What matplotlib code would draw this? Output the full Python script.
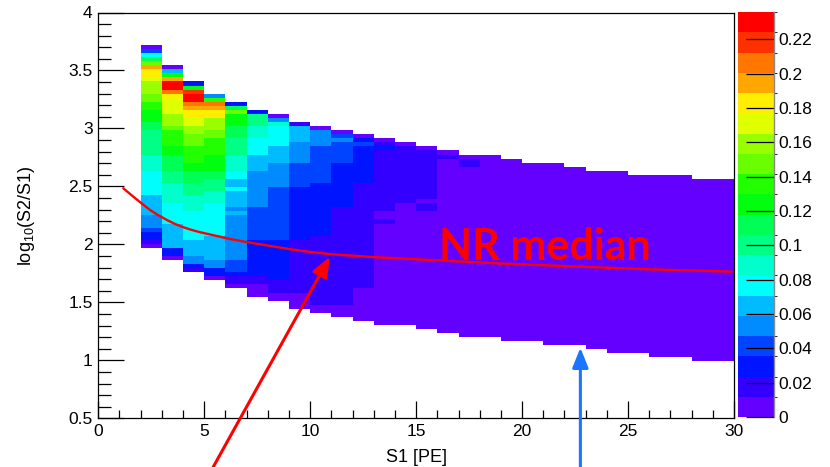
import colorsys
import numpy as np
import matplotlib
matplotlib.use("Agg")
import matplotlib.pyplot as plt
from matplotlib.colors import ListedColormap, BoundaryNorm
from matplotlib.ticker import MultipleLocator, FuncFormatter

plt.rcParams["font.family"] = ["Liberation Sans", "DejaVu Sans"]
plt.rcParams["mathtext.default"] = "regular"

# ---- binning of the 2D histogram -------------------------------------------
s1_edges = np.arange(0, 31, 1.0)                      # S1 [PE], 1 PE bins
ratio_edges = np.round(0.5 + 0.035 * np.arange(101), 4)  # log10(S2/S1) bins
z_max = 0.236
n_contours = 20

# ---- bin contents: per S1 column, (upper edge of band, content) from top down
bands_s1_02 = [(3.72, 0.006), (3.685, 0.041), (3.65, 0.077), (3.615, 0.112),
               (3.58, 0.148), (3.545, 0.195), (3.51, 0.183), (3.44, 0.171),
               (3.405, 0.159), (3.30, 0.148), (3.23, 0.136), (3.16, 0.124),
               (3.055, 0.112), (2.985, 0.100), (2.775, 0.089), (2.635, 0.077),
               (2.425, 0.065), (2.25, 0.053), (2.145, 0.041), (2.11, 0.030),
               (2.04, 0.018), (2.005, 0.006)]
bands_s1_03 = [(3.545, 0.006), (3.51, 0.065), (3.475, 0.124), (3.44, 0.195),
               (3.405, 0.230), (3.335, 0.207), (3.30, 0.183), (3.265, 0.171),
               (3.125, 0.159), (3.02, 0.148), (2.985, 0.136), (2.845, 0.124),
               (2.775, 0.112), (2.635, 0.100), (2.53, 0.089), (2.355, 0.077),
               (2.18, 0.065), (1.97, 0.030), (1.90, 0.006)]
bands_s1_04 = [(3.405, 0.030), (3.37, 0.124), (3.335, 0.218), (3.30, 0.230),
               (3.23, 0.207), (3.195, 0.195), (3.16, 0.183), (3.09, 0.171),
               (3.02, 0.159), (2.95, 0.148), (2.845, 0.136), (2.705, 0.124),
               (2.635, 0.112), (2.53, 0.100), (2.425, 0.089), (2.285, 0.077),
               (2.04, 0.065), (1.90, 0.053), (1.83, 0.030), (1.795, 0.018)]
bands_s1_05 = [(3.30, 0.053), (3.265, 0.136), (3.23, 0.207), (3.195, 0.195),
               (3.16, 0.183), (3.09, 0.159), (2.985, 0.148), (2.915, 0.136),
               (2.775, 0.124), (2.635, 0.112), (2.565, 0.100), (2.46, 0.089),
               (2.355, 0.077), (2.075, 0.065), (1.865, 0.053), (1.795, 0.030),
               (1.725, 0.006)]
bands_s1_06 = [(3.23, 0.030), (3.195, 0.112), (3.16, 0.148), (3.125, 0.124),
               (3.02, 0.112), (2.915, 0.100), (2.775, 0.089), (2.635, 0.077),
               (2.565, 0.065), (2.495, 0.077), (2.46, 0.065), (2.32, 0.053),
               (2.285, 0.065), (2.25, 0.053), (1.865, 0.041), (1.76, 0.030),
               (1.725, 0.018), (1.655, 0.006)]
bands_s1_07 = [(3.16, 0.030), (3.125, 0.100), (3.02, 0.089), (2.915, 0.077),
               (2.775, 0.065), (2.635, 0.053), (2.32, 0.041), (2.04, 0.030),
               (1.725, 0.018), (1.655, 0.006)]
bands_s1_08 = [(3.125, 0.006), (3.09, 0.053), (3.055, 0.089), (3.02, 0.077),
               (2.845, 0.065), (2.705, 0.053), (2.495, 0.041), (2.04, 0.030),
               (1.69, 0.018), (1.585, 0.006)]
bands_s1_09 = [(3.055, 0.018), (3.02, 0.065), (2.88, 0.053), (2.705, 0.041),
               (2.495, 0.030), (2.04, 0.018), (1.585, 0.006)]
bands_s1_10 = [(3.02, 0.006), (2.985, 0.053), (2.845, 0.041), (2.53, 0.030),
               (2.075, 0.018), (1.48, 0.006)]
bands_s1_11 = [(2.985, 0.006), (2.95, 0.041), (2.915, 0.053), (2.88, 0.041),
               (2.705, 0.030), (2.32, 0.018), (1.48, 0.006)]
bands_s1_12 = [(2.95, 0.006), (2.915, 0.030), (2.88, 0.041), (2.845, 0.030),
               (2.53, 0.018), (1.62, 0.006)]
bands_s1_13 = [(2.915, 0.006), (2.88, 0.018), (2.845, 0.030), (2.81, 0.018),
               (2.285, 0.006), (2.215, 0.018), (2.18, 0.006)]
bands_s1_14 = [(2.88, 0.006), (2.845, 0.018), (2.355, 0.006)]
bands_s1_15 = [(2.845, 0.006), (2.81, 0.018), (2.39, 0.006), (2.355, 0.018),
               (2.285, 0.006)]
bands_s1_16 = [(2.81, 0.006), (2.775, 0.018), (2.74, 0.006)]
bands_s1_17 = [(2.775, 0.006), (2.74, 0.018), (2.67, 0.006)]

# S1 columns 18..29 hold only the lowest content level
flat_s1 = list(range(18, 30))
flat_top = [2.775, 2.74, 2.705, 2.705, 2.67, 2.635, 2.635, 2.60, 2.60, 2.60,
            2.565, 2.565]
flat_content = 0.006

# lower edge of the populated region, S1 columns 2..29
column_s1 = list(range(2, 30))
column_bottom = [1.97, 1.865, 1.76, 1.69, 1.62, 1.55, 1.515, 1.445, 1.41,
                 1.375, 1.34, 1.305, 1.305, 1.27, 1.235, 1.20, 1.20, 1.165,
                 1.165, 1.13, 1.13, 1.095, 1.06, 1.06, 1.025, 1.025, 0.99,
                 0.99]

# NR median curve
median_s1 = [1.18, 1.4, 1.65, 2.0, 2.44, 2.8, 3.23, 3.6, 4.01, 4.4, 4.8,
             5.58, 6.21, 7.0, 8.0, 9.0, 10.0, 11.0, 13.0, 15.6, 19.0, 22.7,
             26.0, 29.9]
median_log = [2.484, 2.45, 2.412, 2.36, 2.297, 2.255, 2.211, 2.178, 2.148,
              2.125, 2.105, 2.073, 2.047, 2.02, 1.99, 1.96, 1.935, 1.915,
              1.89, 1.866, 1.835, 1.808, 1.785, 1.765]

# ---- fill the histogram ----------------------------------------------------
banded = {2: bands_s1_02, 3: bands_s1_03, 4: bands_s1_04, 5: bands_s1_05,
          6: bands_s1_06, 7: bands_s1_07, 8: bands_s1_08, 9: bands_s1_09,
          10: bands_s1_10, 11: bands_s1_11, 12: bands_s1_12, 13: bands_s1_13,
          14: bands_s1_14, 15: bands_s1_15, 16: bands_s1_16, 17: bands_s1_17}
for s1, top in zip(flat_s1, flat_top):
    banded[s1] = [(top, flat_content)]

centers = 0.5 * (ratio_edges[:-1] + ratio_edges[1:])
Z = np.full((len(centers), len(s1_edges) - 1), np.nan)
for s1, bottom in zip(column_s1, column_bottom):
    bands = banded[s1]
    for k, (upper, content) in enumerate(bands):
        lower = bands[k + 1][0] if k + 1 < len(bands) else bottom
        rows = (centers < upper) & (centers > lower)
        Z[rows, s1] = content


# ROOT "pretty" palette (violet -> red), 20 contour levels
def pretty_palette(n):
    colors = []
    for i in range(n):
        idx = int((i + 0.99) * 50 / n)
        hue = 280.0 - (idx + 1) * 280.0 / 50
        colors.append(colorsys.hls_to_rgb(hue / 360.0, 0.5, 1.0))
    return colors


cmap = ListedColormap(pretty_palette(n_contours))
levels = np.linspace(0, z_max, n_contours + 1)
norm = BoundaryNorm(levels, n_contours)

# ---- figure ----------------------------------------------------------------
W, H = 830, 467
fig = plt.figure(figsize=(W / 100, H / 100), dpi=100)
ax = fig.add_axes([98.3 / W, 48.7 / H, 635.7 / W, 405.8 / H])
cax = fig.add_axes([737.5 / W, 50.0 / H, 36.5 / W, 405.0 / H])

mesh = ax.pcolormesh(s1_edges, ratio_edges, np.ma.masked_invalid(Z),
                     cmap=cmap, norm=norm, shading="flat",
                     antialiased=False, linewidth=0)

ax.plot(median_s1, median_log, color="#ff0000", lw=1.7, solid_capstyle="round")
ax.text(16.1, 1.868, "NR median", color="#ff0000", fontsize=31,
        fontweight="bold", family=["Lato", "DejaVu Sans"])

ax.annotate("", xy=(10.93, 1.894), xytext=(5.18, 0.0),
            arrowprops=dict(arrowstyle="-|>,head_length=0.8,head_width=0.32",
                            color="#ff0000", lw=2.2, shrinkA=0, shrinkB=0,
                            mutation_scale=15),
            annotation_clip=False)
ax.annotate("", xy=(22.75, 1.109), xytext=(22.75, 0.0),
            arrowprops=dict(arrowstyle="-|>,head_length=0.8,head_width=0.32",
                            color="#1a75ff", lw=2.2, shrinkA=0, shrinkB=0,
                            mutation_scale=15),
            annotation_clip=False)

ax.set_xlim(0, 30)
ax.set_ylim(0.5, 4)
ax.xaxis.set_major_locator(MultipleLocator(5))
ax.xaxis.set_minor_locator(MultipleLocator(1))
ax.yaxis.set_major_locator(MultipleLocator(0.5))
ax.yaxis.set_minor_locator(MultipleLocator(0.1))
fmt = FuncFormatter(lambda v, p: f"{round(v, 3):g}")
ax.xaxis.set_major_formatter(fmt)
ax.yaxis.set_major_formatter(fmt)
ax.tick_params(which="both", direction="in", top=False, right=False,
               labelsize=12.5, width=0.9, colors="black")
ax.tick_params(axis="y", which="major", length=19, pad=4)
ax.tick_params(axis="y", which="minor", length=9.5)
ax.tick_params(axis="x", which="major", length=12, pad=4)
ax.tick_params(axis="x", which="minor", length=6)
for sp in ax.spines.values():
    sp.set_linewidth(0.9)

ax.set_xlabel("S1 [PE]", fontsize=13)
ax.xaxis.set_label_coords(0.5, -0.075)
ax.set_ylabel(r"log$_{10}$(S2/S1)", fontsize=13)
ax.yaxis.set_label_coords(-0.097, 0.5)

cb = fig.colorbar(mesh, cax=cax, ticks=np.arange(0, 0.2201, 0.02))
cb.outline.set_visible(False)
cax.yaxis.set_major_formatter(FuncFormatter(lambda v, p: f"{round(v, 3):g}"))
cax.tick_params(direction="in", length=20, width=0.9, colors="black",
                labelsize=12.5, pad=3)
cax.plot([1, 1], [0, 1], transform=cax.transAxes, color="#888888", lw=1,
         clip_on=False)

fig.savefig("out.png", dpi=100)
